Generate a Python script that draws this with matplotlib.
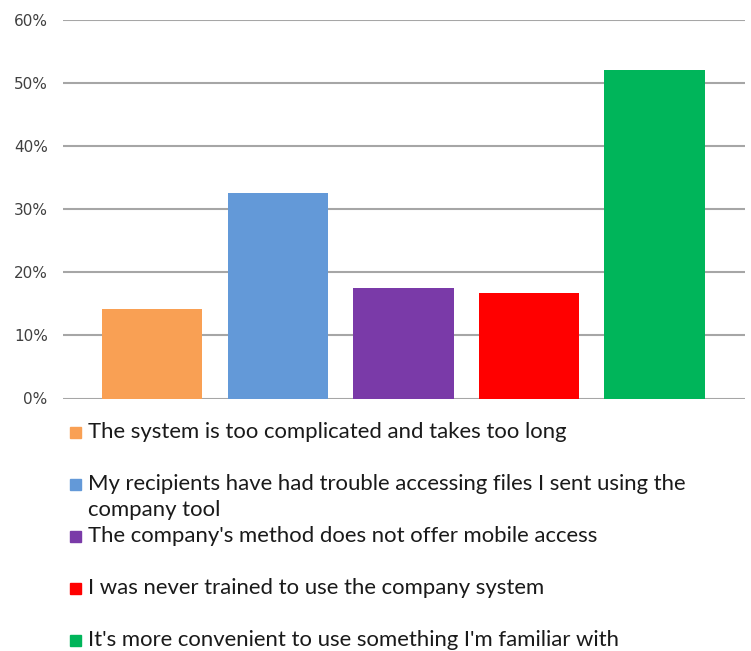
import matplotlib.pyplot as plt
from matplotlib.patches import Rectangle

reasons = [
    "The system is too complicated and takes too long",
    "My recipients have had trouble accessing files I sent using the\ncompany tool",
    "The company's method does not offer mobile access",
    "I was never trained to use the company system",
    "It's more convenient to use something I'm familiar with",
]
shares = [14.2, 32.6, 17.5, 16.8, 52.0]
colors = ["#F9A054", "#6399D8", "#7A3AA8", "#FF0000", "#00B55A"]
yticks = [0, 10, 20, 30, 40, 50, 60]

W, H = 751, 651
fig = plt.figure(figsize=(W / 100, H / 100), dpi=100)
ax = fig.add_axes([63 / W, 1 - 398.5 / H, (745 - 63) / W, (398.5 - 20) / H])

x = list(range(len(shares)))
ax.bar(x, shares, width=0.8, color=colors, zorder=3)
ax.set_xlim(-0.71, 4.72)
ax.set_ylim(0, 60)
ax.set_yticks(yticks)
ax.set_yticklabels([f"{v}%" for v in yticks], fontsize=11, color="#404040",
                   family="DejaVu Sans")
ax.set_xticks([])
ax.grid(axis="y", color="#A6A6A6", linewidth=1.5, zorder=0)
ax.tick_params(axis="y", length=0, pad=11)
for s in ax.spines.values():
    s.set_visible(False)

# legend drawn by hand, one slot every 52 px, wrapped lines 26 px apart
for i, (lab, col) in enumerate(zip(reasons, colors)):
    yb = 438 + 52 * i
    fig.patches.append(Rectangle((70 / W, 1 - yb / H), 11 / W, 11 / H,
                                 transform=fig.transFigure, color=col))
    for k, line in enumerate(lab.split("\n")):
        fig.text(88 / W, 1 - (yb + 26 * k) / H, line, fontsize=15.9,
                 family="Lato", va="baseline", ha="left", color="#1a1a1a")

fig.savefig("out.png", dpi=100)
